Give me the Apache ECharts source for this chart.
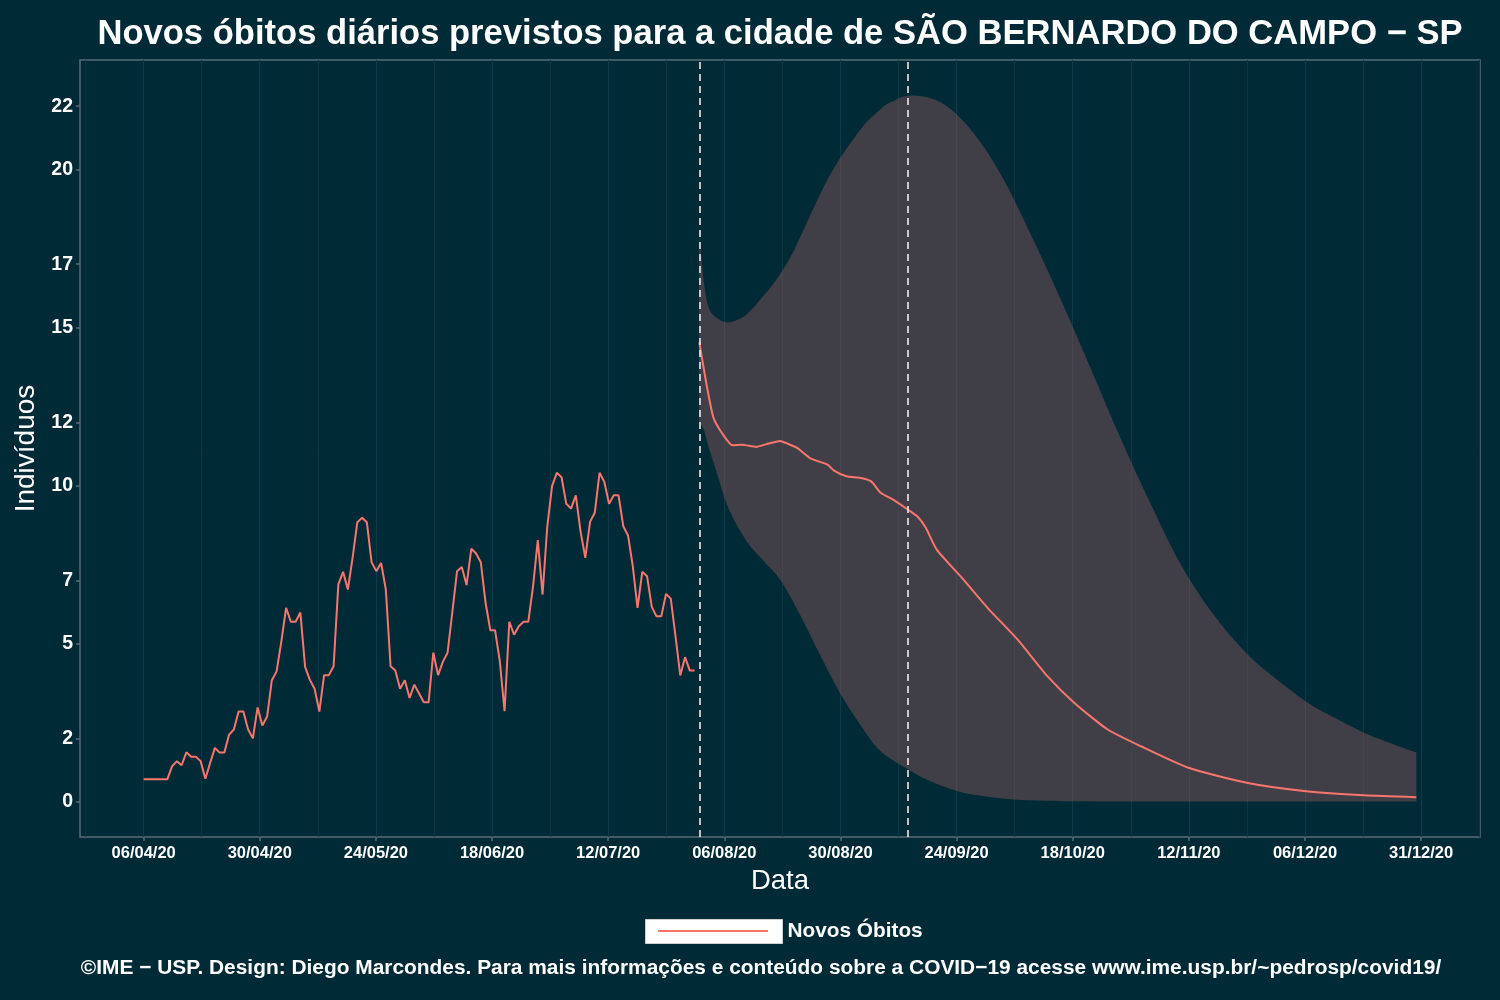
<!DOCTYPE html>
<html>
<head>
<meta charset="utf-8">
<title>Novos óbitos diários previstos - São Bernardo do Campo</title>
<script src="https://cdn.jsdelivr.net/npm/echarts@6/dist/echarts.min.js"></script>
<style>
  html, body { margin: 0; padding: 0; background: #002b36; }
  #chart { width: 1500px; height: 1000px; }
</style>
</head>
<body>
<div id="chart"></div>
<script>
// eixo x em dias contados a partir de 06/04/2020
const tickDays = [0, 24.45, 48.91, 73.36, 97.82, 122.27, 146.73, 171.18, 195.64, 220.09, 244.55, 269];
const tickLabels = ['06/04/20', '30/04/20', '24/05/20', '18/06/20', '12/07/20', '06/08/20',
  '30/08/20', '24/09/20', '18/10/20', '12/11/20', '06/12/20', '31/12/20'];
const yTicks = [0, 2, 5, 7, 10, 12, 15, 17, 20, 22];

// óbitos observados (média móvel), um valor por dia a partir do dia 0
const obsValues = [
  0.71, 0.71, 0.71, 0.71, 0.71, 0.71,
  1.12, 1.28, 1.15, 1.56, 1.42, 1.42, 1.28, 0.72, 1.22, 1.70, 1.55, 1.55, 2.12, 2.28,
  2.85, 2.85, 2.28, 2.00, 2.98, 2.41, 2.69, 3.84, 4.12, 5.07,
  6.13, 5.69, 5.69, 5.98, 4.26, 3.85, 3.57, 2.85, 4.00, 4.00,
  4.28, 6.87, 7.27, 6.71, 7.71, 8.84, 8.98, 8.84, 7.57, 7.29,
  7.55, 6.71, 4.28, 4.15, 3.57, 3.84, 3.28, 3.70, 3.42, 3.14,
  3.14, 4.71, 4.00, 4.42, 4.71, 5.99, 7.29, 7.42, 6.85, 8.00,
  7.85, 7.57, 6.29, 5.42, 5.42, 4.44, 2.86, 5.69, 5.28, 5.55,
  5.69, 5.69, 6.81, 8.27, 6.55, 8.71, 9.98, 10.40, 10.26, 9.42,
  9.27, 9.69, 8.55, 7.71, 8.85, 9.14, 10.40, 10.12, 9.42, 9.69,
  9.69, 8.71, 8.42, 7.45, 6.13, 7.27, 7.13, 6.16, 5.86, 5.86,
  6.57, 6.42, 5.23, 3.99, 4.57, 4.15, 4.15
];

// previsão
const predDays = [117, 118.6, 120, 122, 124, 126, 129, 131, 134, 135.5, 137.6, 140.4, 144, 145.3,
  148, 151, 153.2, 155.2, 158, 161.2, 163, 164.7, 167, 172, 177.7, 184, 190.3, 196, 203, 210,
  220, 232.5, 244.8, 257, 268];
const predValues = [14.53, 13.14, 12.14, 11.61, 11.27, 11.29, 11.22, 11.30, 11.41, 11.33, 11.19,
  10.86, 10.66, 10.48, 10.29, 10.24, 10.13, 9.77, 9.54, 9.21, 9.01, 8.66, 7.97, 7.13, 6.13, 5.13,
  3.97, 3.12, 2.28, 1.75, 1.07, 0.59, 0.33, 0.20, 0.14];

// intervalo de confiança: limite superior
const highDays = [117, 118, 119, 120.5, 123.1, 126.7, 129.9, 133, 136.2, 138.5, 144.6, 151, 155.2,
  157.3, 161.5, 167.8, 174.1, 180.5, 186.8, 193.1, 199.5, 205.8, 212.1, 218.4, 224.8, 231.1, 236.8,
  244.8, 250.7, 257, 262, 268];
const highValues = [17.88, 16.4, 15.63, 15.32, 15.16, 15.38, 15.89, 16.46, 17.22, 17.94, 19.84, 21.27, 21.9,
  22.12, 22.34, 22.12, 21.27, 19.84, 17.94, 15.89, 13.67, 11.46, 9.40, 7.50, 6.01, 4.87, 4.08,
  3.16, 2.66, 2.18, 1.88, 1.55];

// intervalo de confiança: limite inferior
const lowDays = [117, 118, 119, 120.5, 123.1, 126.7, 129.9, 134.1, 138.3, 142.5, 146.7, 151, 155.2,
  161.1, 165.7, 171.4, 177, 183.2, 190, 197.3, 210, 230, 250, 268];
const lowValues = [12.0, 11.75, 11.2, 10.5, 9.3, 8.3, 7.72, 7.0, 5.89, 4.62, 3.42, 2.41, 1.59,
  1.01, 0.64, 0.33, 0.17, 0.07, 0.03, 0.01, 0, 0, 0, 0];

const cutDays = [117, 161];

const bg = '#002b36';
const border = '#586e75';
const red = '#f8766d';
const font = "'Liberation Sans', Arial, Helvetica, sans-serif";
const footer = '©IME − USP. Design: Diego Marcondes. Para mais informações e conteúdo sobre a COVID−19 acesse www.ime.usp.br/~pedrosp/covid19/';

const step = tickDays[1] - tickDays[0];
const minorDays = [tickDays[0] - step / 2];
for (let i = 1; i < tickDays.length; i++) minorDays.push((tickDays[i] + tickDays[i - 1]) / 2);
minorDays.push(tickDays[tickDays.length - 1] + step / 2);

const xMin = -13.4, xMax = 281.4;

// curva suave (catmull-rom) passando pelos pontos já convertidos em pixels
function curveThrough(pts) {
  let s = '';
  for (let i = 0; i < pts.length - 1; i++) {
    const p0 = pts[i - 1] || pts[i], p1 = pts[i], p2 = pts[i + 1], p3 = pts[i + 2] || pts[i + 1];
    const c1 = [p1[0] + (p2[0] - p0[0]) / 6, p1[1] + (p2[1] - p0[1]) / 6];
    const c2 = [p2[0] - (p3[0] - p1[0]) / 6, p2[1] - (p3[1] - p1[1]) / 6];
    s += ' C' + c1[0] + ',' + c1[1] + ' ' + c2[0] + ',' + c2[1] + ' ' + p2[0] + ',' + p2[1];
  }
  return s;
}

const chart = echarts.init(document.getElementById('chart'));
chart.setOption({
  animation: false,
  backgroundColor: bg,
  title: {
    text: 'Novos óbitos diários previstos para a cidade de SÃO BERNARDO DO CAMPO − SP',
    left: 780,
    top: 17,
    padding: 0,
    textAlign: 'center',
    textStyle: { color: '#fff', fontFamily: font, fontWeight: 'bold', fontSize: 34.6 }
  },
  legend: {
    data: [{ name: 'Novos Óbitos', icon: 'rect', itemStyle: { color: '#ffffff', borderColor: '#cfcfcf', borderWidth: 1 } }],
    left: 645,
    top: 919,
    padding: 0,
    itemWidth: 137,
    itemHeight: 24,
    textStyle: { color: '#fff', fontFamily: font, fontWeight: 'bold', fontSize: 20.8 }
  },
  graphic: [
    {
      type: 'line', z: 100, silent: true,
      shape: { x1: 658, y1: 931, x2: 768, y2: 931 },
      style: { stroke: red, lineWidth: 2 }
    },
    {
      type: 'text', x: 761, y: 968, silent: true,
      style: { text: footer, fill: '#fff', font: 'bold 20.9px ' + font, align: 'center', verticalAlign: 'middle' }
    }
  ],
  grid: {
    left: 80, top: 60, right: 20, bottom: 163,
    show: true, borderColor: border, borderWidth: 1.5, backgroundColor: bg
  },
  xAxis: [
    {
      type: 'value', min: xMin, max: xMax,
      name: 'Data', nameLocation: 'middle', nameGap: 30,
      nameTextStyle: { color: '#fff', fontFamily: font, fontSize: 27.5 },
      axisLine: { show: false, onZero: false },
      axisTick: { show: true, length: 4, customValues: tickDays, lineStyle: { color: border, width: 1.5 } },
      axisLabel: {
        customValues: tickDays, margin: 8, color: '#fff', fontWeight: 'bold', fontSize: 16.5,
        fontFamily: font,
        formatter: function (v) {
          for (let i = 0; i < tickDays.length; i++) if (Math.abs(tickDays[i] - v) < 0.01) return tickLabels[i];
          return '';
        }
      },
      splitLine: { show: true, lineStyle: { color: '#0f3b48', width: 1.2 } }
    },
    {
      type: 'value', min: xMin, max: xMax, position: 'bottom',
      axisLine: { show: false, onZero: false }, axisLabel: { show: false },
      axisTick: { show: false, customValues: minorDays },
      splitLine: { show: true, lineStyle: { color: '#0b3642', width: 1 } }
    }
  ],
  yAxis: {
    type: 'value', min: -1.12, max: 23.46,
    name: 'Indivíduos', nameLocation: 'middle', nameGap: 32,
    nameTextStyle: { color: '#fff', fontFamily: font, fontSize: 28 },
    axisLine: { show: false, onZero: false },
    axisTick: { show: true, length: 4, customValues: yTicks, lineStyle: { color: border, width: 1.5 } },
    axisLabel: { customValues: yTicks, margin: 7, color: '#fff', fontWeight: 'bold', fontSize: 19.5, fontFamily: font },
    splitLine: { show: false }
  },
  series: [
    {
      name: 'intervalo', type: 'custom', silent: true,
      renderItem: function (params, api) {
        const up = highDays.map((d, i) => api.coord([d, highValues[i]]));
        const low = lowDays.map((d, i) => api.coord([d, lowValues[i]])).reverse();
        const d = 'M' + up[0][0] + ',' + up[0][1] + curveThrough(up) +
          ' L' + low[0][0] + ',' + low[0][1] + curveThrough(low) + ' Z';
        return {
          type: 'path',
          shape: { pathData: d },
          style: { fill: 'rgba(128,83,88,0.5)' }
        };
      },
      data: [[highDays[0], lowValues[0]]]
    },
    {
      name: 'Novos Óbitos', type: 'line', symbol: 'none',
      lineStyle: { color: red, width: 2 }, itemStyle: { color: red },
      data: obsValues.map((v, i) => [i, v])
    },
    {
      name: 'Novos Óbitos', type: 'line', symbol: 'none', smooth: 0.2,
      lineStyle: { color: red, width: 2 }, itemStyle: { color: red },
      data: predDays.map((d, i) => [d, predValues[i]]),
      markLine: {
        silent: true, symbol: 'none', label: { show: false },
        lineStyle: { color: '#f4e6e6', type: [7, 5], width: 1.6 },
        data: cutDays.map(d => ({ xAxis: d }))
      }
    }
  ]
});
</script>
</body>
</html>
